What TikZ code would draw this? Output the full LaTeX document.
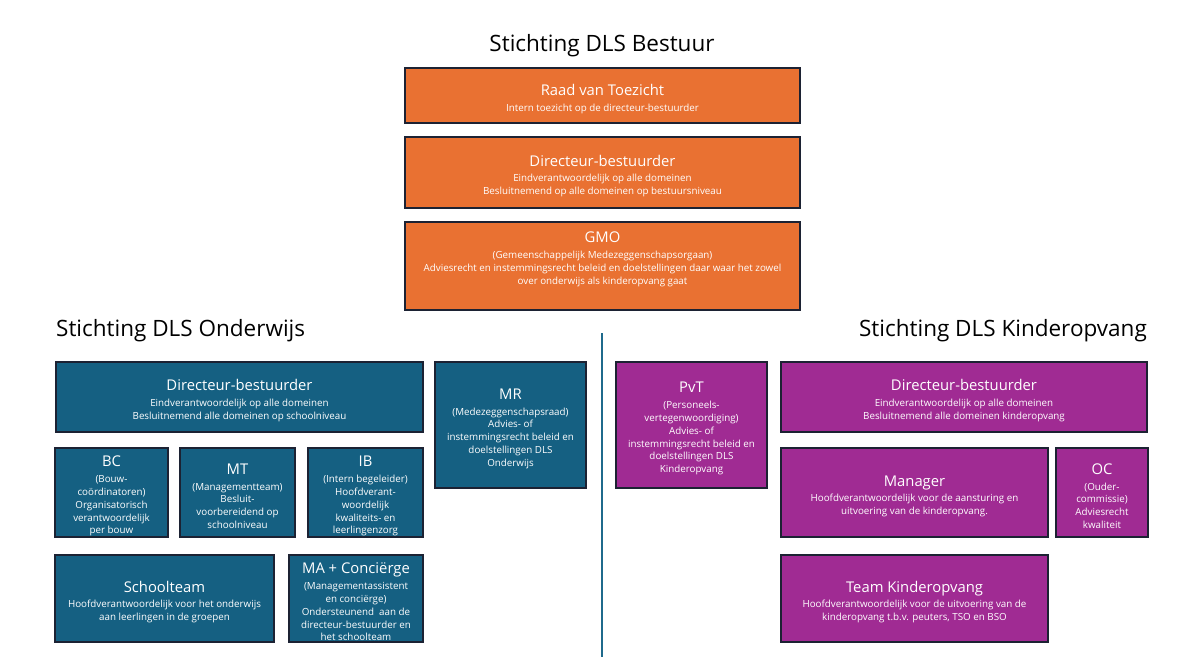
\documentclass[tikz,border=0pt]{standalone}
\usepackage{fontspec}
\setmainfont{Open Sans}
\definecolor{orgfill}{HTML}{E97132}
\definecolor{bluefill}{HTML}{156082}
\definecolor{purpfill}{HTML}{A02B93}
\definecolor{edgecol}{HTML}{1C2233}
\definecolor{divcol}{HTML}{1F6A8C}
\newcommand{\bxt}[1]{{\fontsize{14.8}{17}\selectfont\rule{0pt}{18pt}#1}\\[3pt]}
\newcommand{\mkbox}[7]{\node[#2, minimum width={(#5-#3)*1pt}, minimum height={(#6-#4)*1pt}] (#1) at ({(#3+#5)/2},{(#4+#6)/2}) {#7};}
\begin{document}
\begin{tikzpicture}[x=1pt,y=-1pt,
  orgbox/.style={draw=edgecol, line width=1.6pt, fill=orgfill, text=white, align=center, inner sep=0pt, font=\fontsize{9.8}{12.8}\selectfont},
  bluebox/.style={orgbox, fill=bluefill},
  purpbox/.style={orgbox, fill=purpfill},
  sectitle/.style={font=\fontsize{22.5}{26}\selectfont, text=black, inner sep=0pt}]
\useasboundingbox (0,0) rectangle (1200,657);
\fill[white] (0,0) rectangle (1200,657);
% titles
\node[sectitle] (tbest) at (602,46) {Stichting DLS Bestuur};
\node[sectitle, anchor=west] (tond) at (56,331) {Stichting DLS Onderwijs};
\node[sectitle, anchor=east] (tkin) at (1147,331) {Stichting DLS Kinderopvang};
% bestuur
\mkbox{rvt}{orgbox}{405}{68}{800}{123}{\bxt{Raad van Toezicht}Intern toezicht op de directeur-bestuurder}
\mkbox{dirb}{orgbox}{405}{137}{800}{208}{\bxt{Directeur-bestuurder}Eindverantwoordelijk op alle domeinen\\Besluitnemend op alle domeinen op bestuursniveau}
\mkbox{gmo}{orgbox}{405}{222}{800}{310}{\bxt{GMO}(Gemeenschappelijk Medezeggenschapsorgaan)\\Adviesrecht en instemmingsrecht beleid en doelstellingen daar waar het zowel\\over onderwijs als kinderopvang gaat\\[10pt]\mbox{}}
% onderwijs
\mkbox{diro}{bluebox}{56}{362}{423}{432}{\bxt{Directeur-bestuurder}Eindverantwoordelijk op alle domeinen\\Besluitnemend alle domeinen op schoolniveau}
\mkbox{mr}{bluebox}{435}{362}{586}{488}{\bxt{MR}(Medezeggenschapsraad)\\Advies- of\\instemmingsrecht beleid en\\doelstellingen DLS\\Onderwijs}
\mkbox{bc}{bluebox}{55}{448}{168}{537}{\bxt{BC}(Bouw-\\coördinatoren)\\Organisatorisch\\verantwoordelijk\\per bouw}
\mkbox{mt}{bluebox}{180}{448}{295}{537}{\bxt{MT}(Managementteam)\\Besluit-\\voorbereidend op\\schoolniveau}
\mkbox{ib}{bluebox}{308}{448}{423}{537}{\bxt{IB}(Intern begeleider)\\Hoofdverant-\\woordelijk\\kwaliteits- en\\leerlingenzorg}
\mkbox{st}{bluebox}{55}{555}{274}{642}{\bxt{Schoolteam}Hoofdverantwoordelijk voor het onderwijs\\aan leerlingen in de groepen}
\mkbox{ma}{bluebox}{289}{555}{423}{642}{\bxt{MA + Conciërge}(Managementassistent\\en conciërge)\\Ondersteunend\ \ aan de\\directeur-bestuurder en\\het schoolteam}
% kinderopvang
\mkbox{pvt}{purpbox}{616}{362}{767}{488}{\bxt{PvT}(Personeels-\\vertegenwoordiging)\\Advies- of\\instemmingsrecht beleid en\\doelstellingen DLS\\Kinderopvang}
\mkbox{dirk}{purpbox}{781}{362}{1147}{432}{\bxt{Directeur-bestuurder}Eindverantwoordelijk op alle domeinen\\Besluitnemend alle domeinen kinderopvang}
\mkbox{man}{purpbox}{781}{448}{1048}{537}{\bxt{Manager}Hoofdverantwoordelijk voor de aansturing en\\uitvoering van de kinderopvang.}
\mkbox{oc}{purpbox}{1056}{448}{1148}{537}{\bxt{OC}(Ouder-\\commissie)\\Adviesrecht\\kwaliteit}
\mkbox{tk}{purpbox}{781}{555}{1048}{642}{\bxt{Team Kinderopvang}Hoofdverantwoordelijk voor de uitvoering van de\\kinderopvang t.b.v. peuters, TSO en BSO}
% divider
\coordinate (dtop) at (602,333);
\coordinate (dbot) at (602,657);
\draw[divcol, line width=1.3pt] (dtop) -- (dbot);
\end{tikzpicture}
\end{document}
